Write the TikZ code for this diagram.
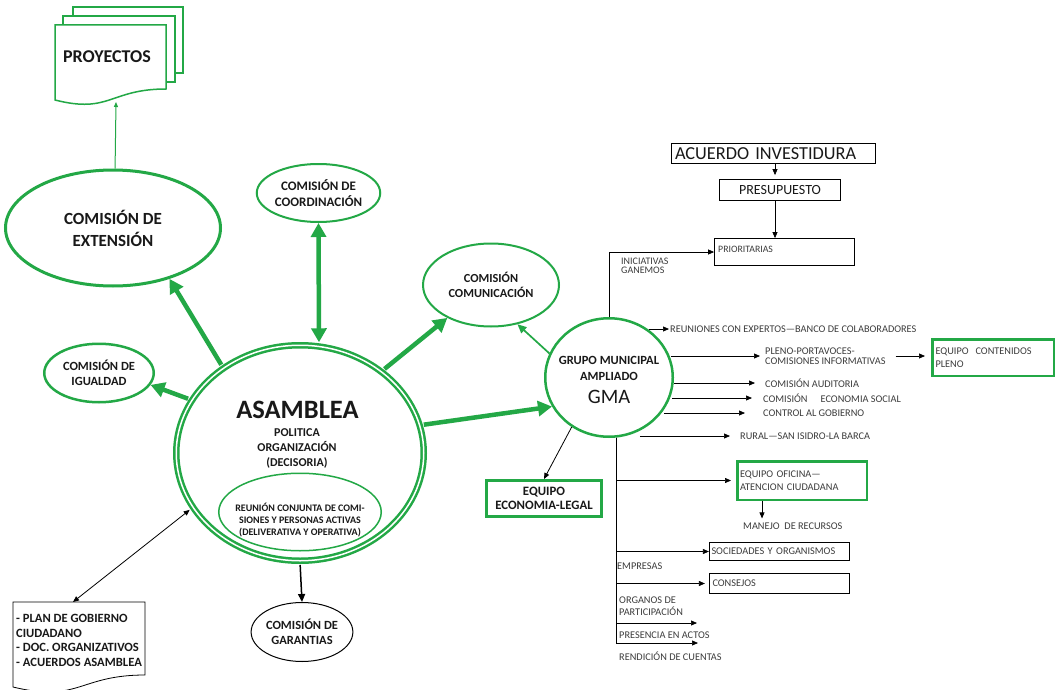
\documentclass[tikz,border=0pt]{standalone}
\usepackage{fontspec}
\setmainfont{Carlito}
\usetikzlibrary{shapes.geometric,arrows.meta}
\definecolor{gr}{RGB}{35,168,70}
\definecolor{txt}{RGB}{25,25,25}
\definecolor{gtxt}{RGB}{60,60,60}
\begin{document}
\begin{tikzpicture}[x=1pt,y=-1pt,
  comm/.style={ellipse, draw=gr, align=center, inner sep=0pt, text=txt},
  gbox/.style={rectangle, draw=gr, line width=2.5pt, inner sep=0pt, text=gtxt},
  bbox/.style={rectangle, draw=black, line width=1.3pt, inner sep=0pt, text=gtxt},
  bigarrow/.style={draw=gr, line width=4.5pt, -{Triangle[length=14pt,width=15pt]}},
  smallarrow/.style={draw=black, line width=0.7pt, -{Triangle[length=6pt,width=5pt]}},
  lbl/.style={anchor=west, inner sep=0pt, text=gtxt, font=\fontsize{10.3}{10.5}\selectfont, align=left},
  ttl/.style={inner sep=0pt, text=txt, align=center},
]
\useasboundingbox (0,0) rectangle (1057,690);
\fill[white] (0,0) rectangle (1057,690);

% ---------- PROYECTOS (multi document) ----------
\draw[gr, line width=1.5pt, fill=white] (73,7) rectangle (183,73);
\draw[gr, line width=1.5pt, fill=white] (63,16) rectangle (175,82);
\draw[gr, line width=1.5pt, fill=white] (55,25) -- (166,25) -- (166,89)
  .. controls (110,89) and (110,114) .. (55,100) -- cycle;
\node[ttl, font=\bfseries\fontsize{18}{20}\selectfont] (proy) at (107,57) {PROYECTOS};
\coordinate (proybot) at (116,102);

% ---------- left commissions ----------
\node[comm, line width=3pt, minimum width=215pt, minimum height=116pt,
  font=\bfseries\fontsize{17}{22}\selectfont] (ext) at (113,228) {COMISIÓN DE\\EXTENSIÓN};
\node[comm, line width=2pt, minimum width=105pt, minimum height=58pt,
  font=\bfseries\fontsize{13}{15.5}\selectfont] (coord) at (318.5,193) {COMISIÓN DE\\COORDINACIÓN};
\node[comm, line width=2.5pt, minimum width=109.5pt, minimum height=58.5pt,
  font=\bfseries\fontsize{12.5}{15.5}\selectfont] (igual) at (99,373) {COMISIÓN DE\\IGUALDAD};

% ---------- ASAMBLEA ----------
\node[ellipse, draw=gr, line width=2.5pt, double=white, double distance=1.5pt,
  minimum width=247.5pt, minimum height=215.5pt, inner sep=0pt] (asam) at (300,453) {};
\node[ttl, font=\bfseries\fontsize{26.5}{30}\selectfont] (asamt) at (297.5,410) {ASAMBLEA};
\node[ttl, font=\bfseries\fontsize{12}{15}\selectfont] (asams) at (297,448) {POLITICA\\ORGANIZACIÓN\\(DECISORIA)};
\node[ellipse, draw=gr, line width=1.5pt, minimum width=162.5pt, minimum height=77.5pt,
  inner sep=0pt] (reun) at (300,512) {};
\node[ttl, font=\bfseries\fontsize{10}{12.4}\selectfont] (reunt) at (300,520)
  {REUNIÓN CONJUNTA DE COMI-\\SIONES Y PERSONAS ACTIVAS\\(DELIVERATIVA Y OPERATIVA)};

\node[ellipse, draw=black, line width=1pt, minimum width=96pt, minimum height=59pt,
  inner sep=0pt, align=center, text=txt, font=\bfseries\fontsize{12.5}{15}\selectfont] (gar) at (302,632)
  {COMISIÓN DE\\GARANTIAS};

% plan document
\draw[black, line width=0.8pt, fill=white] (13,602) -- (145,602) -- (145,675)
  .. controls (79,675) and (79,703) .. (13,687) -- cycle;
\node[inner sep=0pt, anchor=north west, align=left, text=txt,
  font=\bfseries\fontsize{12.6}{14.7}\selectfont] (plan) at (16,614)
  {- PLAN DE GOBIERNO\\CIUDADANO\\- DOC. ORGANIZATIVOS\\- ACUERDOS ASAMBLEA};
\coordinate (plantop) at (73,602);

% ---------- comunicación, GMA ----------
\node[comm, line width=2pt, minimum width=136pt, minimum height=83pt,
  font=\bfseries\fontsize{12.3}{14.3}\selectfont] (com) at (491,285) {COMISIÓN\\COMUNICACIÓN};
\node[ellipse, draw=gr, line width=2.5pt, minimum width=127.5pt, minimum height=118.5pt,
  inner sep=0pt] (gma) at (609,377.5) {};
\node[ttl, font=\bfseries\fontsize{12.5}{16}\selectfont] (gmat) at (609,368) {GRUPO MUNICIPAL\\AMPLIADO};
\node[ttl, font=\fontsize{20.5}{24}\selectfont] (gmab) at (609,397) {GMA};
\node[gbox, line width=3pt, minimum width=115pt, minimum height=36pt, align=center, text=txt,
  font=\bfseries\fontsize{12.8}{14.3}\selectfont] (econ) at (544,498.5) {EQUIPO\\ECONOMIA-LEGAL};

% ---------- right side boxes ----------
\node[bbox, text=txt, minimum width=203.5pt, minimum height=19.5pt, text width=197pt, align=left,
  font=\fontsize{18.3}{20}\selectfont] (acu) at (773.5,153.5) {ACUERDO INVESTIDURA};
\node[bbox, text=txt, minimum width=120.5pt, minimum height=20.5pt,
  font=\fontsize{14}{16}\selectfont] (pres) at (780,190) {PRESUPUESTO};
\node[bbox, minimum width=139.5pt, minimum height=26.5pt] (prio) at (784.5,252) {};
\node[lbl, font=\fontsize{9.8}{10}\selectfont] (priot) at (718,249) {PRIORITARIAS};
\node[gbox, minimum width=121.5pt, minimum height=36.5pt, text width=115pt, align=left,
  font=\fontsize{10.3}{13}\selectfont] (cont) at (993,357.5) {EQUIPO\ \ CONTENIDOS\\PLENO};
\node[gbox, minimum width=129.5pt, minimum height=38.5pt, text width=124pt, align=left,
  font=\fontsize{10.3}{12.5}\selectfont] (ofi) at (802,480.5) {EQUIPO OFICINA—\\ATENCION CIUDADANA};
\node[bbox, line width=1.2pt, minimum width=140pt, minimum height=18pt, text width=136pt, align=left,
  font=\fontsize{10.3}{10.5}\selectfont] (soc) at (779.5,551.5) {SOCIEDADES Y ORGANISMOS};
\node[bbox, line width=1.2pt, minimum width=140pt, minimum height=20pt, text width=134pt, align=left,
  font=\fontsize{10.3}{10.5}\selectfont] (cons) at (779.5,583.5) {CONSEJOS};

% ---------- right labels ----------
\node[lbl] (reu) at (670,329) {REUNIONES CON EXPERTOS—BANCO DE COLABORADORES};
\node[lbl, font=\fontsize{10.3}{9.5}\selectfont] (ple) at (765,356) {PLENO-PORTAVOCES-\\COMISIONES INFORMATIVAS};
\node[lbl] (aud) at (765,383) {COMISIÓN AUDITORIA};
\node[lbl] (eco) at (763,398) {COMISIÓN\hspace{13pt}ECONOMIA SOCIAL};
\node[lbl] (ctl) at (763,413) {CONTROL AL GOBIERNO};
\node[lbl] (rur) at (740,436) {RURAL—SAN ISIDRO-LA BARCA};
\node[lbl] (man) at (743,526) {MANEJO\ \ DE RECURSOS};
\node[lbl, font=\fontsize{10}{9}\selectfont] (ini) at (621,266) {INICIATIVAS\\GANEMOS};
\node[lbl] (emp) at (617,566) {EMPRESAS};
\node[lbl, font=\fontsize{10.3}{12}\selectfont] (org) at (619,606) {ORGANOS DE\\PARTICIPACIÓN};
\node[lbl] (pre) at (619,635) {PRESENCIA EN ACTOS};
\node[lbl] (ren) at (619,656) {RENDICIÓN DE CUENTAS};
\coordinate (f1) at (697,623);
\coordinate (f2) at (698,643);
\coordinate (vt) at (gma.-83);

% ---------- connectors: left ----------
\draw[gr, line width=1pt, -{Triangle[length=5pt,width=4pt]}] (ext.88) -- (proybot);
\draw[bigarrow, shorten <=3pt] (asam.132) -- (ext.-42);
\draw[bigarrow, {Triangle[length=14pt,width=15pt]}-{Triangle[length=14pt,width=15pt]}, shorten <=3pt] (asam.80.5) -- (coord.south);
\draw[bigarrow, shorten <=3pt] (asam.154) -- (igual.-13.5);
\draw[bigarrow, shorten <=3pt] (asam.45.7) -- (com.217);
\draw[bigarrow, shorten <=3pt] (asam.13.5) -- (gma.207);
\draw[gr, line width=1.7pt, -{Triangle[length=9pt,width=8pt]}] (gma.158) -- (com.-56);
\draw[smallarrow, line width=0.8pt] (gma.233.5) -- (econ.north);
\draw[draw=black, line width=1.5pt, -{Triangle[length=8pt,width=7pt]}, shorten <=3pt] (asam.south) -- (gar.north);
\draw[draw=black, line width=0.8pt, {Triangle[length=6pt,width=5pt]}-{Triangle[length=6pt,width=5pt]}, shorten >=3pt] (plantop) -- (asam.207.4);

% ---------- connectors: right ----------
\draw[smallarrow, shorten >=4pt] ([xshift=-5pt]pres.north |- acu.south) -- ([xshift=-5pt]pres.north);
\draw[smallarrow] ([xshift=-5pt]pres.south) -- ([xshift=-5pt]pres.south |- prio.north);
\draw[smallarrow] (gma.north) |- (prio.west);
\draw[smallarrow, shorten >=1pt] (gma.50 |- reu.west) -- (reu.west);
\draw[smallarrow, shorten >=5pt] (gma.15 |- ple.west) -- (ple.west);
\draw[smallarrow, shorten <=10pt, shorten >=6pt] (ple.east) -- (cont.west |- ple.east);
\draw[smallarrow, shorten >=10pt] (gma.-4 |- aud.west) -- (aud.west);
\draw[smallarrow, shorten >=11pt] (gma.-12 |- eco.west) -- (eco.west);
\draw[smallarrow, shorten >=18pt] (gma.-30 |- ctl.west) -- (ctl.west);
\draw[smallarrow, shorten >=10pt] (gma.-60 |- rur.west) -- (rur.west);
\draw[smallarrow, shorten >=5pt] (vt) |- (ofi.west);
\draw[smallarrow, shorten >=4pt] ([xshift=-40pt]ofi.south) -- ([xshift=-40pt]ofi.south |- man.north);
\draw[smallarrow] (vt) |- (soc.west);
\draw[smallarrow, shorten >=4pt] (vt) |- (cons.west);
\draw[smallarrow] (vt) |- (f1);
\draw[smallarrow] (vt) |- (f2);
\end{tikzpicture}
\end{document}
